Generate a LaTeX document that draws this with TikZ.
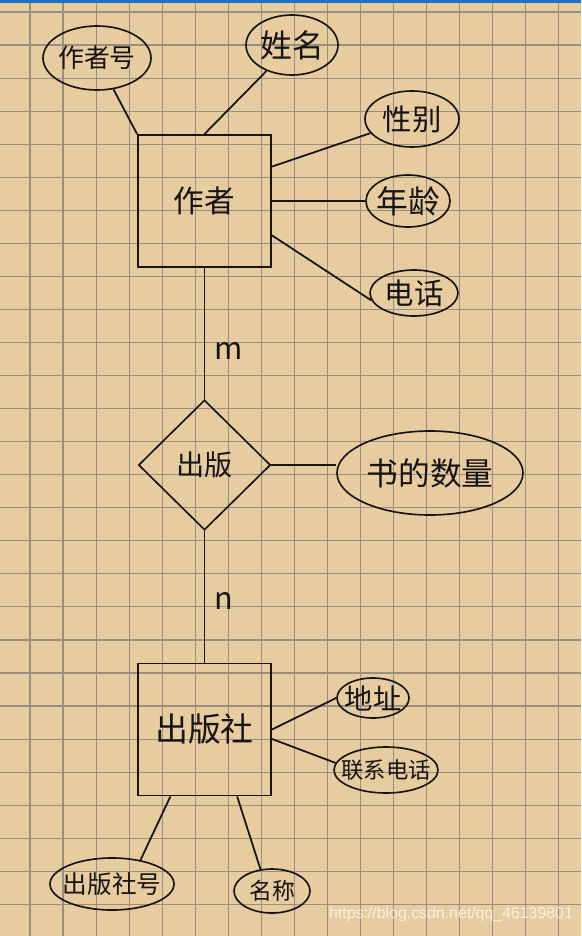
\documentclass[tikz,border=0pt]{standalone}
\usepackage{fontspec}
\usepackage{xcolor}
\usepackage{tikz}
\usetikzlibrary{shapes.geometric,calc}
\newfontfamily\hw{Noto Sans CJK SC}
\newfontfamily\wmfont{Liberation Sans}
\definecolor{paper}{RGB}{231,204,160}
\definecolor{gridgray}{RGB}{152,142,130}
\definecolor{barblue}{RGB}{28,112,198}
\definecolor{ink}{RGB}{22,20,18}
\tikzset{
  entity/.style={rectangle,draw=ink,line width=1.6pt,inner sep=0pt,minimum width=133*0.85pt,minimum height=132*0.85pt},
  relation/.style={diamond,draw=ink,line width=1.4pt,inner sep=0pt,minimum width=132*0.85pt,minimum height=130*0.85pt},
  attr/.style={ellipse,draw=ink,line width=1.4pt,inner sep=-40pt},
  attrsize/.style 2 args={minimum width=#1*0.85pt,minimum height=#2*0.85pt},
  link/.style={draw=ink,line width=1.5pt},
  gridline/.style={draw=gridgray,line width=0.95pt}
}

\begin{document}
\begin{tikzpicture}[
  x=0.85pt,y=-0.85pt,
  txt/.style={font={\hw\fontsize{#1}{#1}\selectfont},text=ink},
  wm/.style={font={\wmfont\fontsize{13.5}{14}\selectfont},text=white,text opacity=0.7}
]

% paper and grid
\fill[paper] (0,0) rectangle (581,936);
\useasboundingbox (0,0) rectangle (581,936);
\foreach \i in {0,...,16}
  \draw[gridline] ({30+33.05*\i},3) -- ({30+33.05*\i},936);
\foreach \j in {0,...,27}
  \draw[gridline] (0,{12+33.05*\j}) -- (581,{12+33.05*\j});
\fill[barblue] (0,0) rectangle (581,3);

% author
\node[entity,txt=26] (zuozhe) at (204.5,201) {作者};
\node[attr,attrsize={108}{64},txt=22] (zuozhehao) at (97,58) {作者号};
\node[attr,attrsize={92}{60},txt=27] (xingming) at (292,45) {姓名};
\node[attr,attrsize={94}{56},txt=25] (xingbie) at (412,119) {性别};
\node[attr,attrsize={84}{52},txt=27] (nianling) at (408,201) {年龄};
\node[attr,attrsize={88}{46},txt=25] (dianhua) at (414,293) {电话};

\draw[link] (zuozhe.north west) -- (zuozhehao);
\draw[link] (zuozhe.north) -- (xingming);
\draw[link] (zuozhe.27) -- (xingbie);
\draw[link] (zuozhe.east) -- (nianling);
\draw[link] (zuozhe.-27) -- (dianhua.190);

% publish
\node[relation,txt=24] (chuban) at (204.5,465) {出版};
\node[attr,attrsize={186}{84},txt=27] (shuliang) at (430,473) {书的数量};

\draw[link] (zuozhe) -- (chuban);
\draw[link] (chuban.east) -- (shuliang.west |- chuban.east);
\node[txt=26] (m) at (229,351) {m};
\node[txt=26] (n) at (224,601) {n};

% publisher
\node[entity,txt=28] (chubanshe) at (204.5,729.5) {出版社};
\node[attr,attrsize={72}{40},txt=24] (dizhi) at (373,698) {地址};
\node[attr,attrsize={104}{46},txt=19] (lianxidianhua) at (386,770) {联系电话};
\node[attr,attrsize={124}{52},txt=21] (chubanshehao) at (112,884) {出版社号};
\node[attr,attrsize={76}{44},txt=19.5] (mingcheng) at (272,891) {名称};

\draw[link] (chuban) -- (chubanshe);
\draw[link] (chubanshe.east) -- (dizhi.west);
\draw[link] (chubanshe.-8) -- (lianxidianhua.172);
\draw[link] (chubanshe.243) -- (chubanshehao.40);
\draw[link] (chubanshe.-64) -- (mingcheng.118);

\node[wm] (watermark) at (451,914) {https://blog.csdn.net/qq\_46139801};

\end{tikzpicture}
\end{document}
